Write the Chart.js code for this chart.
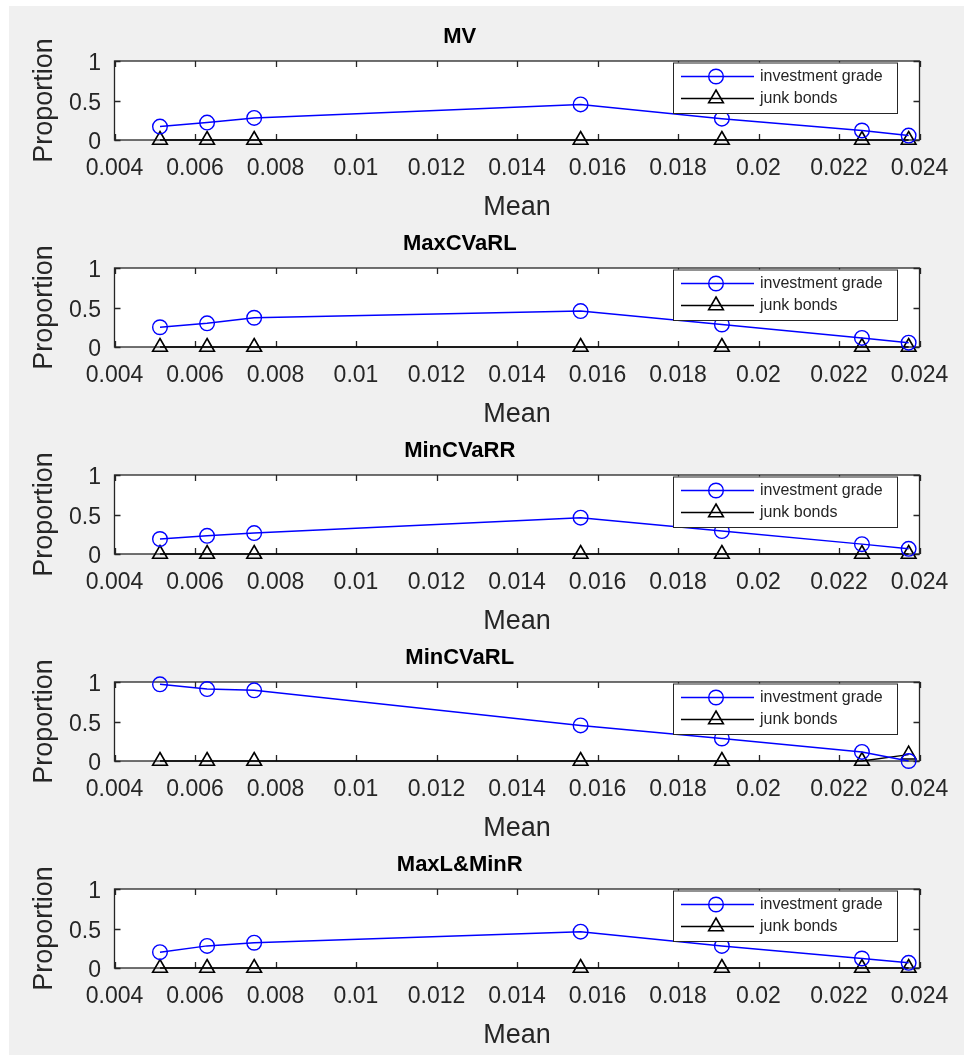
<!DOCTYPE html>
<html>
<head>
<meta charset="utf-8">
<title>Proportions</title>
<script src="https://cdn.jsdelivr.net/npm/chart.js@4.4.1/dist/chart.umd.min.js"></script>
<style>
  html, body { margin: 0; padding: 0; background: #fff; overflow: hidden; width: 964px; height: 1055px; }
  #fig { position: absolute; left: 9px; top: 6px; width: 955px; height: 1049px; background: #f0f0f0; }
  canvas { position: absolute; left: 0; }
</style>
</head>
<body>
<div id="fig"></div>
<script>
// x values (mean) shared by every panel
const meanValues = [0.00513, 0.00630, 0.00747, 0.01558, 0.01909, 0.02257, 0.02373];

const panelTitles = ['MV', 'MaxCVaRL', 'MinCVaRR', 'MinCVaRL', 'MaxL&MinR'];
const seriesNames = ['investment grade', 'junk bonds'];

// investment grade proportions per panel
const investMV = [0.17, 0.22, 0.28, 0.45, 0.27, 0.12, 0.056];
const investMaxCVaRL = [0.25, 0.30, 0.37, 0.455, 0.285, 0.115, 0.055];
const investMinCVaRR = [0.19, 0.23, 0.265, 0.46, 0.29, 0.125, 0.065];
const investMinCVaRL = [0.97, 0.91, 0.895, 0.45, 0.285, 0.115, 0];
const investMaxLMinR = [0.20, 0.28, 0.32, 0.46, 0.28, 0.12, 0.065];

// junk bond proportions per panel
const junkMV = [0, 0, 0, 0, 0, 0, 0];
const junkMaxCVaRL = [0, 0, 0, 0, 0, 0, 0];
const junkMinCVaRR = [0, 0, 0, 0, 0, 0, 0];
const junkMinCVaRL = [0, 0, 0, 0, 0, 0, 0.08];
const junkMaxLMinR = [0, 0, 0, 0, 0, 0, 0];

const investPanels = [investMV, investMaxCVaRL, investMinCVaRR, investMinCVaRL, investMaxLMinR];
const junkPanels = [junkMV, junkMaxCVaRL, junkMinCVaRR, junkMinCVaRL, junkMaxLMinR];

const xTickValues = [0.004, 0.006, 0.008, 0.010, 0.012, 0.014, 0.016, 0.018, 0.020, 0.022, 0.024];
const xTickLabels = ['0.004', '0.006', '0.008', '0.01', '0.012', '0.014', '0.016', '0.018', '0.02', '0.022', '0.024'];
const yTickValues = [0, 0.5, 1];
const yTickLabels = ['0', '0.5', '1'];

const FONT = "'Liberation Sans', Arial, Helvetica, sans-serif";
const AX = '#262626';

// matlab style axes: white box, inward ticks on all sides, legend inside top right
const matlabAxes = {
  id: 'matlabAxes',
  beforeDraw(chart) {
    const { ctx, chartArea: a } = chart;
    ctx.save();
    ctx.fillStyle = '#fff';
    ctx.fillRect(a.left, a.top, a.right - a.left, a.bottom - a.top);
    ctx.restore();
  },
  beforeDatasetsDraw(chart) {
    const { ctx, chartArea: a, scales } = chart;
    const tl = 6;
    ctx.save();
    ctx.strokeStyle = AX;
    ctx.lineWidth = 1.3;
    ctx.beginPath();
    xTickValues.forEach(v => {
      const px = Math.round(scales.x.getPixelForValue(v)) + 0.5;
      ctx.moveTo(px, a.bottom); ctx.lineTo(px, a.bottom - tl);
      ctx.moveTo(px, a.top); ctx.lineTo(px, a.top + tl);
    });
    yTickValues.forEach(v => {
      const py = Math.round(scales.y.getPixelForValue(v)) + 0.5;
      ctx.moveTo(a.left, py); ctx.lineTo(a.left + tl, py);
      ctx.moveTo(a.right, py); ctx.lineTo(a.right - tl, py);
    });
    ctx.stroke();
    ctx.strokeRect(a.left, a.top, a.right - a.left, a.bottom - a.top);
    ctx.restore();
  },
  afterDatasetsDraw(chart) {
    const { ctx, chartArea: a } = chart;
    const w = 224, h = 50.5;
    const left = a.right - 22.5 - w;
    const top = a.top + 1.5;
    ctx.save();
    ctx.fillStyle = '#fff';
    ctx.fillRect(left, top, w, h);
    ctx.strokeStyle = AX;
    ctx.lineWidth = 1;
    ctx.strokeRect(left + 0.5, top + 0.5, w, h);
    chart.data.datasets.forEach((ds, k) => {
      const y = top + 14 + k * 22;
      ctx.strokeStyle = ds.borderColor;
      ctx.lineWidth = ds.borderWidth;
      ctx.beginPath();
      ctx.moveTo(left + 8, y);
      ctx.lineTo(left + 81, y);
      ctx.stroke();
      ctx.fillStyle = 'rgba(0,0,0,0)';
      ctx.lineWidth = ds.pointBorderWidth;
      Chart.helpers.drawPoint(ctx, {
        pointStyle: ds.pointStyle,
        radius: ds.pointRadius,
        borderWidth: ds.pointBorderWidth,
        rotation: 0
      }, left + 43, y);
      ctx.fillStyle = AX;
      ctx.font = '16px ' + FONT;
      ctx.textBaseline = 'middle';
      ctx.textAlign = 'left';
      ctx.fillText(ds.label, left + 87, y);
    });
    ctx.restore();
  }
};

function makePanel(i) {
  const canvas = document.createElement('canvas');
  canvas.width = 964;
  canvas.height = 230;
  canvas.style.top = (207 * i) + 'px';
  document.body.appendChild(canvas);

  new Chart(canvas, {
    type: 'line',
    data: {
      datasets: [
        {
          label: seriesNames[0],
          data: meanValues.map((m, k) => ({ x: m, y: investPanels[i][k] })),
          borderColor: '#0000ff',
          borderWidth: 1.5,
          pointStyle: 'circle',
          pointRadius: 7.3,
          pointBorderWidth: 1.4,
          pointBorderColor: '#0000ff',
          pointBackgroundColor: 'rgba(0,0,0,0)',
          tension: 0,
          clip: false
        },
        {
          label: seriesNames[1],
          data: meanValues.map((m, k) => ({ x: m, y: junkPanels[i][k] })),
          borderColor: '#000000',
          borderWidth: 1.3,
          pointStyle: 'triangle',
          pointRadius: 8.5,
          pointBorderWidth: 1.6,
          pointBorderColor: '#000000',
          pointBackgroundColor: 'rgba(0,0,0,0)',
          tension: 0,
          clip: false
        }
      ]
    },
    options: {
      responsive: false,
      animation: false,
      devicePixelRatio: 1,
      layout: { padding: { top: 0, right: 44.5, bottom: 4, left: 0 } },
      plugins: {
        legend: { display: false },
        tooltip: { enabled: false },
        title: {
          display: true,
          text: panelTitles[i],
          color: '#000',
          font: { family: FONT, size: 22, weight: 'bold' },
          padding: { top: 24, bottom: 10.6 }
        }
      },
      scales: {
        x: {
          type: 'linear',
          min: 0.004,
          max: 0.024,
          afterBuildTicks: s => { s.ticks = xTickValues.map(v => ({ value: v })); },
          afterFit: s => { s.height = 86; },
          grid: { display: false, drawTicks: false },
          border: { display: false },
          ticks: {
            autoSkip: false,
            maxRotation: 0,
            padding: 15,
            color: AX,
            font: { family: FONT, size: 23 },
            callback: (v, k) => xTickLabels[k]
          },
          title: {
            display: true,
            text: 'Mean',
            color: AX,
            font: { family: FONT, size: 27 },
            padding: { top: 0, bottom: 2.5 }
          }
        },
        y: {
          min: 0,
          max: 1,
          afterBuildTicks: s => { s.ticks = yTickValues.map(v => ({ value: v })); },
          afterFit: s => { s.width = 114.5; },
          grid: { display: false, drawTicks: false },
          border: { display: false },
          ticks: {
            padding: 13.5,
            labelOffset: 3,
            color: AX,
            font: { family: FONT, size: 23 },
            callback: (v, k) => yTickLabels[k]
          },
          title: {
            display: true,
            text: 'Proportion',
            color: AX,
            font: { family: FONT, size: 27 },
            padding: { top: 28.5, bottom: 0 }
          }
        }
      }
    },
    plugins: [matlabAxes]
  });
}

panelTitles.forEach((t, i) => makePanel(i));
</script>
</body>
</html>
